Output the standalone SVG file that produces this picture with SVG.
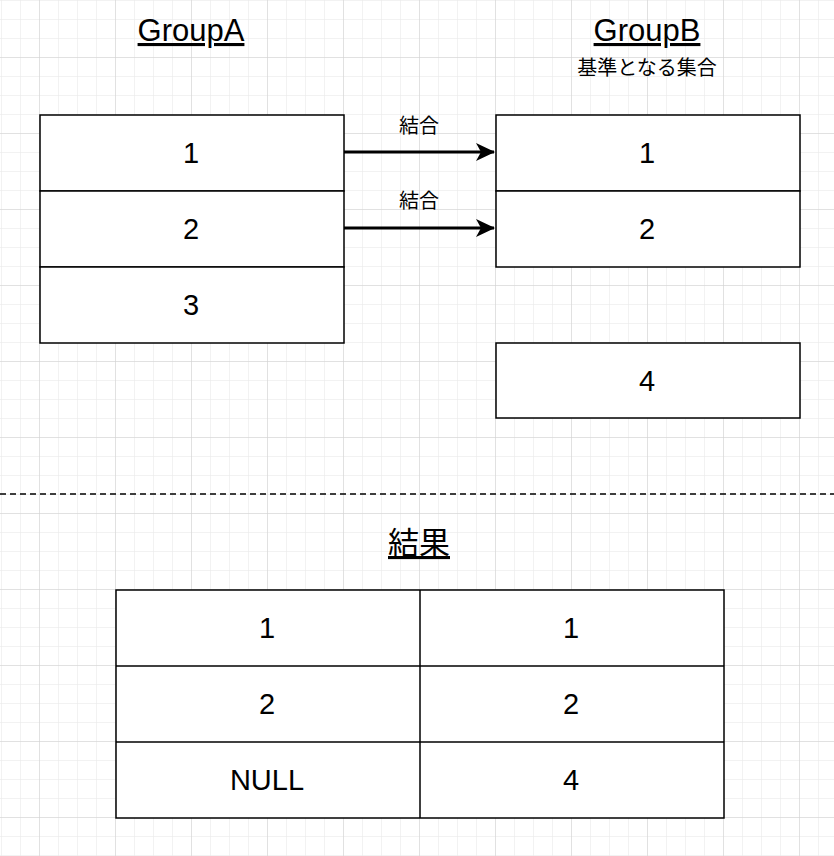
<svg xmlns="http://www.w3.org/2000/svg" width="834" height="856" viewBox="0 0 834 856">
<defs>
<pattern id="minor" width="19" height="19" patternUnits="userSpaceOnUse" x="1" y="0"><path d="M0 0H19M0 0V19" fill="none" stroke="#e6e6e6" stroke-width="1"/></pattern>
<pattern id="major" width="76" height="76" patternUnits="userSpaceOnUse" x="39" y="57"><path d="M0 0H76M0 0V76" fill="none" stroke="#cfcfcf" stroke-width="1"/></pattern>
<marker id="arr" markerWidth="20" markerHeight="20" refX="18" refY="9" orient="auto" markerUnits="userSpaceOnUse"><path d="M0 0L19 9L0 18L5 9Z" fill="#000"/></marker>
</defs>
<style>
.b{fill:#fff;stroke:#000;stroke-width:1.5}
.t{font-family:"Liberation Sans",Arial,sans-serif;font-size:29px;text-anchor:middle;fill:#000}
.h{font-family:"Liberation Sans","Noto Sans CJK JP",sans-serif;font-size:31px;text-anchor:middle;text-decoration:underline;fill:#000}
.s{font-family:"Liberation Sans","Noto Sans CJK JP",sans-serif;font-size:20px;text-anchor:middle;fill:#000}
</style>
<rect width="834" height="856" fill="#fff"/>
<rect width="834" height="856" fill="url(#minor)"/>
<rect width="834" height="856" fill="url(#major)"/>
<text class="h" x="191" y="41">GroupA</text>
<text class="h" x="647" y="41">GroupB</text>
<text class="s" x="647" y="75">基準となる集合</text>
<g id="a1"><rect class="b" x="40" y="115" width="304" height="76"/><text class="t" x="191" y="163">1</text></g>
<g id="a2"><rect class="b" x="40" y="191" width="304" height="76"/><text class="t" x="191" y="239">2</text></g>
<g id="a3"><rect class="b" x="40" y="267" width="304" height="76"/><text class="t" x="191" y="315">3</text></g>
<g id="b1"><rect class="b" x="496" y="115" width="304" height="76"/><text class="t" x="647" y="163">1</text></g>
<g id="b2"><rect class="b" x="496" y="191" width="304" height="76"/><text class="t" x="647" y="239">2</text></g>
<g id="b4"><rect class="b" x="496" y="343" width="304" height="75"/><text class="t" x="647" y="391">4</text></g>
<g id="connectors" stroke="#000" stroke-width="3" fill="none">
<line x1="344" y1="152" x2="494" y2="152" marker-end="url(#arr)"/>
<line x1="344" y1="228" x2="494" y2="228" marker-end="url(#arr)"/>
</g>
<text class="s" x="419" y="133">結合</text>
<text class="s" x="419" y="208">結合</text>
<line x1="0" y1="494" x2="834" y2="494" stroke="#000" stroke-width="1.5" stroke-dasharray="6 4"/>
<text class="h" x="419" y="554">結果</text>
<g id="result">
<rect class="b" x="116" y="590" width="608" height="228"/>
<line x1="420" y1="590" x2="420" y2="818" stroke="#000" stroke-width="1.5"/>
<line x1="116" y1="666" x2="724" y2="666" stroke="#000" stroke-width="1.5"/>
<line x1="116" y1="742" x2="724" y2="742" stroke="#000" stroke-width="1.5"/>
<text class="t" x="267" y="638">1</text><text class="t" x="571" y="638">1</text>
<text class="t" x="267" y="714">2</text><text class="t" x="571" y="714">2</text>
<text class="t" x="267" y="790">NULL</text><text class="t" x="571" y="790">4</text>
</g>
</svg>
